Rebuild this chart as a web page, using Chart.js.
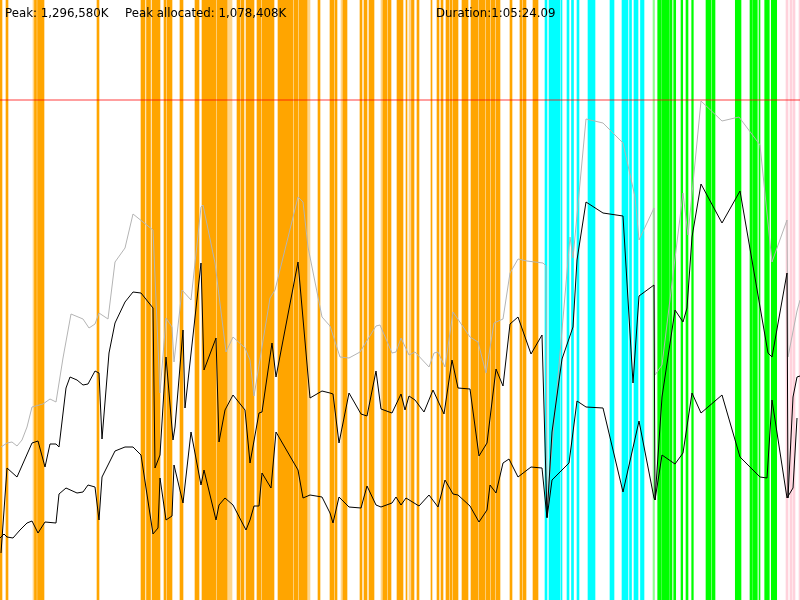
<!DOCTYPE html>
<html>
<head>
<meta charset="utf-8">
<script src="https://cdn.jsdelivr.net/npm/chart.js@4.4.1/dist/chart.umd.min.js"></script>
<style>
    body { margin: 0; background: #fff; }
    #wrap { position: relative; width: 800px; height: 600px; }
    #header span {
        position: absolute;
        top: 6px;
        font: 11.8px "DejaVu Sans", sans-serif;
        color: #000;
        white-space: pre;
    }
</style>
</head>
<body>
<div id="wrap">
    <canvas id="memChart" width="800" height="600"></canvas>
    <div id="header">
        <span style="left:5px">Peak: 1,296,580K</span>
        <span style="left:125px">Peak allocated: 1,078,408K</span>
        <span style="left:436px">Duration:1:05:24.09</span>
    </div>
</div>
<script>
// time axis runs 0..800 over the whole run; memory is scaled so the recorded peak reads 500
const peakLevel = 500;

// activity bands along the time axis, [start, end]
const orangeRuns = [[0,2],[6,8],[34.5,36.5],[37.5,44],[97,99],[141,145],[146.5,150.5],[152,160],[164,166],[167,172],[180,183],[195,199],
    [202,216],[217,227],[237,240],[241,244],[246,254],[257,261],[262,274],[278,293],[294,298],[299,307],[318,320],[330,334],[335,337],
    [343,347],[360,362],[364,367],[369,374],[383,387],[388,391],[397,403],[406,407],[411.5,414],[417,419],[431,432],[437,439],[441,443],
    [446,449],[450,452],[453,458],[462,468],[471,478],[479,485],[486,490],[491,495],[496,500],[510,512],[520,522],[523,526],[533,538]];
const paleOrangeRuns = [[33,34.5],[227,232],[307,310],[341,343],[381,383],[409,411.5]];
const cyanRuns = [[545,547],[549,560],[561,562],[567,569],[571.5,573.5],[577,579],[588,595],[610,614],[622,628],[629.5,631.5],[634,638],[640.5,644]];
const greenRuns = [[657.7,661],[661.7,669.3],[670,672],[673.7,675.7],[681,682.7],[686,688],[691.7,693.3],[706,711],[712,715],
    [735.3,741],[750,752],[752.7,757.3],[759,760],[764.7,769.3],[771.3,776.7]];
const paleGreenRuns = [[653,654.5]];
const pinkRuns = [[786,788],[790,792],[793,795],[799,800]];

// total heap (grey)
const totalTimes = [1,7,12,17,22,27,32,43,50,56,63,71,83,89,95,99,108,115,125,133,153,160,166,172,174,182,191,201,203,215,
    226,233,245,250,254,270,275,298,303,308,322,330,340,349,360,376,380,392,396,401,409,415,429,434,438,445,453,470,478,486,
    494,503,510,518,527,543,546,547,570,573,586,603,623,635,639,654,655,662,683,688,701,722,739,760,772,787,788,797,800];
const totalHeap = [153,157,158,154,160,173,193,196,201,198,242,286,281,272,276,287,281,338,352,386,370,207,282,273,238,310,300,393,395,337,
    248,263,252,240,204,302,310,403,398,353,283,274,243,242,248,274,275,247,248,262,245,248,233,247,248,233,288,263,258,227,
    277,281,327,341,339,337,334,95,363,342,481,477,457,403,360,392,225,235,407,365,499,479,483,455,338,380,243,289,300];

// allocated (upper black)
const allocTimes = [1,7,17,32,38,45,50,56,59,66,70,77,83,88,95,99,102,109,115,125,133,141,153,155,160,166,173,175,183,185,
    201,204,216,219,225,233,245,250,259,262,272,276,298,310,322,330,333,339,349,361,367,376,381,392,401,405,409,415,424,433,
    444,452,458,470,479,487,496,503,510,518,531,542,547,552,562,573,577,586,603,623,633,639,654,655,662,675,683,687,692,701,
    722,740,768,772,787,788,793,797,800];
const allocated = [47,132,123,157,159,133,156,156,153,212,223,220,215,216,229,227,161,247,277,298,308,307,292,132,145,243,160,173,270,192,
    337,230,262,158,190,205,190,137,187,188,257,223,338,202,209,207,206,157,207,186,184,229,191,187,206,190,204,200,188,210,
    186,240,212,211,144,157,231,214,276,283,246,265,83,168,241,273,340,398,387,384,217,304,315,100,203,290,278,292,363,416,
    377,409,247,243,327,102,203,223,224];

// in use (lower black)
const usedTimes = [0,4,7,13,20,27,32,38,45,56,59,66,77,83,88,95,99,102,115,125,133,141,153,158,160,166,172,174,183,191,
    201,204,216,219,225,233,246,250,254,259,262,271,276,298,303,310,322,330,333,339,349,361,367,376,381,392,396,401,406,419,
    429,438,445,453,458,470,479,487,490,496,503,509,518,531,542,547,552,569,577,586,603,623,639,654,655,662,675,683,692,701,
    722,740,760,767,772,787,793,797];
const used = [62,66,63,62,70,77,79,67,78,77,106,112,107,108,115,113,80,123,149,153,153,145,66,72,122,80,84,135,97,168,
    115,130,80,95,102,95,70,80,94,94,127,112,168,130,102,105,103,87,77,103,93,92,114,95,93,97,103,95,102,94,
    105,93,120,106,105,94,78,90,115,107,137,141,123,133,132,82,120,137,199,193,192,108,179,102,100,145,136,147,207,187,
    205,143,123,122,200,102,112,182];

function bands(list, colour) {
    return {
        type: 'bar',
        indexAxis: 'y',
        xAxisID: 'x',
        yAxisID: 'band',
        data: list.map(r => ({ x: r, y: 'run' })),
        backgroundColor: colour,
        borderWidth: 0,
        grouped: false,
        categoryPercentage: 1,
        barPercentage: 1,
        order: 10
    };
}

function series(times, values, colour) {
    return {
        type: 'line',
        xAxisID: 'x',
        yAxisID: 'y',
        data: times.map((t, i) => ({ x: t, y: values[i] })),
        borderColor: colour,
        borderWidth: 1,
        pointRadius: 0,
        tension: 0,
        fill: false,
        order: 2
    };
}

const peakLine = {
    type: 'line',
    xAxisID: 'x',
    yAxisID: 'y',
    data: [{ x: 0, y: peakLevel }, { x: 800, y: peakLevel }],
    borderColor: 'rgba(255,0,0,0.5)',
    borderWidth: 1.5,
    pointRadius: 0,
    order: 5
};

new Chart(document.getElementById('memChart'), {
    type: 'line',
    data: {
        datasets: [
            bands(orangeRuns, '#ffa500'),
            bands(paleOrangeRuns, 'rgba(255,165,0,0.45)'),
            bands(cyanRuns, '#00ffff'),
            bands(greenRuns, '#00ff00'),
            bands(paleGreenRuns, 'rgba(0,255,0,0.45)'),
            bands(pinkRuns, '#ffd2dc'),
            peakLine,
            Object.assign(series(totalTimes, totalHeap, '#b4b4b4'), { order: 3 }),
            series(allocTimes, allocated, '#000'),
            series(usedTimes, used, '#000')
        ]
    },
    options: {
        responsive: false,
        animation: false,
        events: [],
        layout: { padding: 0 },
        plugins: { legend: { display: false }, tooltip: { enabled: false }, title: { display: false } },
        scales: {
            x: { type: 'linear', min: 0, max: 800, display: false },
            y: { type: 'linear', min: 0, max: 600, display: false },
            band: { type: 'category', axis: 'y', labels: ['run'], offset: true, display: false }
        }
    }
});
</script>
</body>
</html>
